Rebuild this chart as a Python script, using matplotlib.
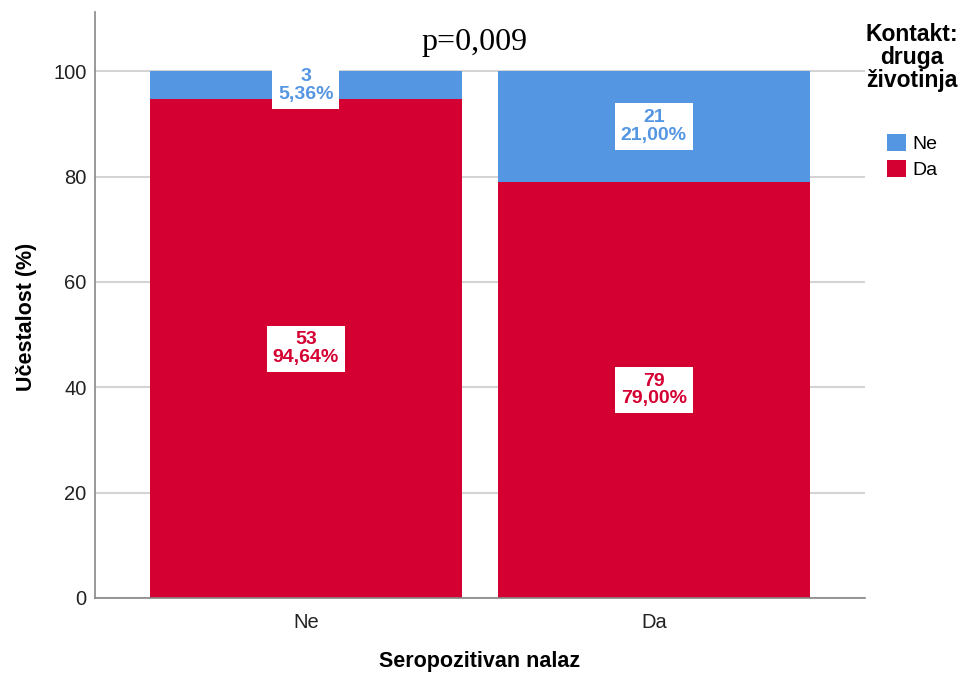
import matplotlib.pyplot as plt
from matplotlib.patches import Patch

plt.rcParams['font.family'] = ['Liberation Sans', 'DejaVu Sans']

categories = ["Ne", "Da"]
counts_ne = [3, 21]
counts_da = [53, 79]
pct_ne = [5.36, 21.00]
pct_da = [94.64, 79.00]
yticks = [0, 20, 40, 60, 80, 100]

blue = "#5596e3"
red = "#d50032"

fig = plt.figure(figsize=(9.65, 6.74), dpi=100)
ax = fig.add_axes([0.0984, 0.1128, 0.7976, 0.869])

x = list(range(len(categories)))
ax.bar(x, pct_da, width=0.897, color=red, zorder=2)
ax.bar(x, pct_ne, width=0.897, bottom=pct_da, color=blue, zorder=2)

box = dict(boxstyle="square,pad=0.3", fc="white", ec="none")
for i in x:
    ax.text(i, pct_da[i] / 2, f"{counts_da[i]}\n{pct_da[i]:.2f}%".replace(".", ","),
            ha="center", va="center", color=red, fontsize=14, fontweight="bold",
            linespacing=1.05, bbox=box, zorder=3)
    ax.text(i, pct_da[i] + pct_ne[i] / 2, f"{counts_ne[i]}\n{pct_ne[i]:.2f}%".replace(".", ","),
            ha="center", va="center", color=blue, fontsize=14, fontweight="bold",
            linespacing=1.05, bbox=box, zorder=3)

ax.set_xlim(-0.606, 1.606)
ax.set_ylim(0, 111.2)
ax.set_yticks(yticks)
ax.set_xticks(x)
ax.set_xticklabels(categories)
ax.tick_params(length=0, labelsize=14.5, colors="#222222")
ax.tick_params(axis="x", pad=11)
ax.tick_params(axis="y", pad=6)
ax.yaxis.grid(True, color="#d4d4d4", linewidth=1.5, zorder=1)
ax.set_axisbelow(True)
for s in ["top", "right"]:
    ax.spines[s].set_visible(False)
for s in ["left", "bottom"]:
    ax.spines[s].set_color("#888888")
    ax.spines[s].set_linewidth(1.2)

ax.set_xlabel("Seropozitivan nalaz", fontsize=15.5, fontweight="bold")
ax.xaxis.set_label_coords(0.5, -0.09)
ax.set_ylabel("Učestalost (%)", fontsize=15.5, fontweight="bold")
ax.yaxis.set_label_coords(-0.075, 0.48)

ax.text(0.485, 105.5, "p=0,009", ha="center", va="center",
        fontsize=23, family=["Liberation Serif", "DejaVu Serif"])

handles = [Patch(facecolor=blue, label="Ne"), Patch(facecolor=red, label="Da")]
leg = ax.legend(handles=handles, title="Kontakt:\ndruga\nživotinja",
                loc="upper left", bbox_to_anchor=(0.984, 1.005), frameon=False,
                fontsize=14, handlelength=1.0, handleheight=1.0, handletextpad=0.3,
                labelspacing=0.35, borderaxespad=0.3)
leg.get_title().set_fontweight("bold")
leg.get_title().set_fontsize(16.5)
leg.get_title().set_multialignment("center")
leg.get_title().set_linespacing(1.0)
leg._legend_box.align = "center"
leg._legend_box.sep = 30

fig.savefig("out.png", dpi=100)
